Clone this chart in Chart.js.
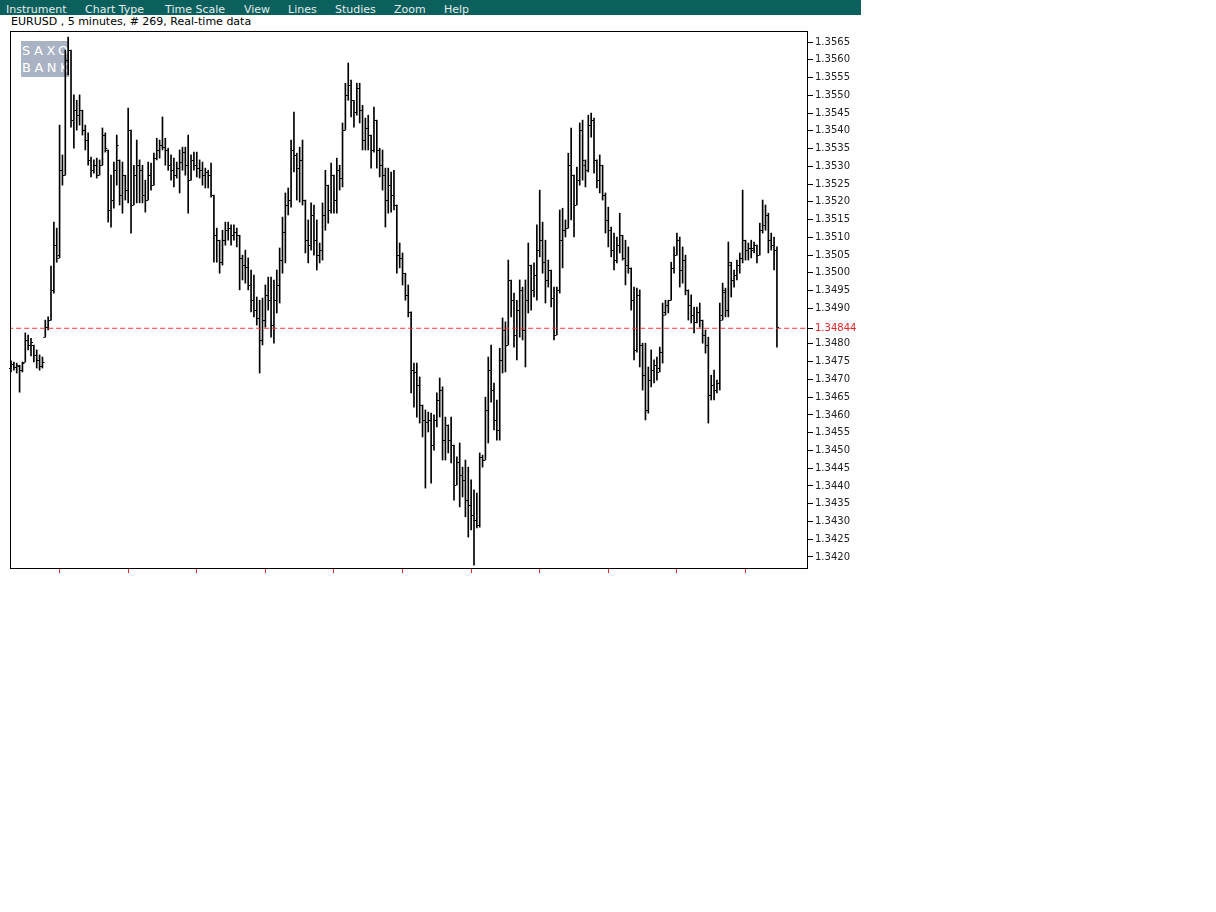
<!DOCTYPE html>
<html lang="en">
<head>
    <meta charset="UTF-8">
    <title>EURUSD 5 minutes</title>
    <script src="https://cdn.jsdelivr.net/npm/chart.js"></script>
    <style>
        body {
            margin: 0;
            background: #fff;
            font-family: "DejaVu Sans", sans-serif;
        }
        .menu {
            position: absolute;
            left: 0;
            top: 0;
            width: 861px;
            height: 15px;
            overflow: hidden;
            background: #0b605e;
        }
        .menu span {
            position: absolute;
            top: 3px;
            font-size: 11px;
            color: #e4ecec;
        }
        .title {
            position: absolute;
            left: 11px;
            top: 15px;
            font-size: 11px;
            color: #000;
        }
        .logo {
            position: absolute;
            left: 21px;
            top: 41px;
            width: 48px;
            height: 36px;
            background: #a9b3c3;
            color: #fff;
            font-size: 13px;
            letter-spacing: 3.5px;
            line-height: 17px;
            padding: 1px 0 0 1px;
            box-sizing: border-box;
            overflow: hidden;
            white-space: nowrap;
        }
        .chart-box {
            position: absolute;
            left: 0;
            top: 0;
            width: 870px;
            height: 580px;
        }
    </style>
</head>
<body>
    <div class="menu">
        <span style="left:6px">Instrument</span>
        <span style="left:85px">Chart Type</span>
        <span style="left:165px">Time Scale</span>
        <span style="left:244px">View</span>
        <span style="left:288px">Lines</span>
        <span style="left:335px">Studies</span>
        <span style="left:394px">Zoom</span>
        <span style="left:444px">Help</span>
    </div>
    <div class="title">EURUSD , 5 minutes, # 269, Real-time data</div>
    <div class="logo">SAXO<br>BANK</div>
    <div class="chart-box">
        <canvas id="ohlcChart" width="870" height="580"></canvas>
    </div>

    <script>
        // 269 bars de 5 minutes
        const opens = [
            1.34732, 1.34743, 1.34735, 1.34738, 1.34726, 1.34749, 1.34811, 1.34797, 1.34797, 1.34769,
            1.34755, 1.34738, 1.34819, 1.34847, 1.34867, 1.34952, 1.35078, 1.35050, 1.35289, 1.35275,
            1.35599, 1.35627, 1.35430, 1.35458, 1.35444, 1.35458, 1.35402, 1.35374, 1.35318, 1.35289,
            1.35303, 1.35275, 1.35303, 1.35388, 1.35346, 1.35177, 1.35205, 1.35289, 1.35318, 1.35219,
            1.35275, 1.35233, 1.35402, 1.35191, 1.35275, 1.35303, 1.35289, 1.35219, 1.35205, 1.35275,
            1.35247, 1.35323, 1.35346, 1.35360, 1.35354, 1.35346, 1.35303, 1.35289, 1.35275, 1.35295,
            1.35312, 1.35340, 1.35303, 1.35261, 1.35318, 1.35303, 1.35295, 1.35289, 1.35275, 1.35284,
            1.35275, 1.35219, 1.35106, 1.35092, 1.35030, 1.35092, 1.35120, 1.35126, 1.35106, 1.35115,
            1.35106, 1.35042, 1.35022, 1.35016, 1.34966, 1.34923, 1.34895, 1.34873, 1.34811, 1.34867,
            1.34938, 1.34923, 1.34853, 1.34923, 1.34966, 1.35036, 1.35115, 1.35191, 1.35205, 1.35346,
            1.35332, 1.35295, 1.35318, 1.35205, 1.35092, 1.35078, 1.35163, 1.35092, 1.35050, 1.35064,
            1.35163, 1.35247, 1.35177, 1.35275, 1.35205, 1.35289, 1.35267, 1.35402, 1.35501, 1.35529,
            1.35486, 1.35453, 1.35520, 1.35458, 1.35374, 1.35408, 1.35388, 1.35346, 1.35430, 1.35346,
            1.35303, 1.35275, 1.35205, 1.35247, 1.35219, 1.35191, 1.35050, 1.35042, 1.34999, 1.34938,
            1.34890, 1.34726, 1.34721, 1.34684, 1.34628, 1.34586, 1.34580, 1.34586, 1.34515, 1.34586,
            1.34642, 1.34670, 1.34529, 1.34572, 1.34529, 1.34515, 1.34403, 1.34467, 1.34431, 1.34417,
            1.34360, 1.34346, 1.34318, 1.34304, 1.34290, 1.34482, 1.34473, 1.34614, 1.34726, 1.34670,
            1.34586, 1.34558, 1.34755, 1.34839, 1.34797, 1.34980, 1.34923, 1.34825, 1.34895, 1.34952,
            1.34839, 1.34923, 1.35022, 1.34952, 1.34994, 1.35064, 1.35092, 1.35030, 1.34980, 1.35008,
            1.34929, 1.34825, 1.34952, 1.35092, 1.35120, 1.35126, 1.35303, 1.35275, 1.35191, 1.35261,
            1.35402, 1.35303, 1.35289, 1.35416, 1.35430, 1.35318, 1.35261, 1.35303, 1.35219, 1.35149,
            1.35120, 1.35064, 1.35036, 1.35078, 1.35106, 1.35042, 1.35022, 1.35014, 1.34923, 1.34783,
            1.34938, 1.34797, 1.34712, 1.34614, 1.34698, 1.34726, 1.34740, 1.34732, 1.34777, 1.34890,
            1.34909, 1.34923, 1.35014, 1.35050, 1.35092, 1.35008, 1.35036, 1.34952, 1.34909, 1.34881,
            1.34862, 1.34890, 1.34867, 1.34825, 1.34797, 1.34656, 1.34684, 1.34670, 1.34690, 1.34881,
            1.34946, 1.34895, 1.35022, 1.34980, 1.34994, 1.35022, 1.35042, 1.35092, 1.35064, 1.35070,
            1.35070, 1.35078, 1.35050, 1.35120, 1.35135, 1.35163, 1.35092, 1.35078, 1.35064
        ];
        const highs = [
            1.34752, 1.34749, 1.34746, 1.34740, 1.34749, 1.34831, 1.34825, 1.34816, 1.34797, 1.34783,
            1.34769, 1.34763, 1.34867, 1.34876, 1.35019, 1.35143, 1.35126, 1.35416, 1.35332, 1.35627,
            1.35664, 1.35627, 1.35501, 1.35486, 1.35501, 1.35458, 1.35416, 1.35394, 1.35326, 1.35318,
            1.35323, 1.35318, 1.35408, 1.35394, 1.35346, 1.35275, 1.35312, 1.35388, 1.35318, 1.35312,
            1.35275, 1.35464, 1.35402, 1.35303, 1.35374, 1.35318, 1.35303, 1.35261, 1.35312, 1.35309,
            1.35337, 1.35379, 1.35374, 1.35439, 1.35379, 1.35351, 1.35332, 1.35323, 1.35312, 1.35346,
            1.35354, 1.35354, 1.35388, 1.35332, 1.35340, 1.35340, 1.35318, 1.35312, 1.35295, 1.35289,
            1.35309, 1.35219, 1.35126, 1.35092, 1.35120, 1.35143, 1.35143, 1.35135, 1.35135, 1.35126,
            1.35106, 1.35050, 1.35064, 1.35042, 1.35008, 1.34994, 1.34932, 1.34923, 1.34929, 1.34966,
            1.34988, 1.34988, 1.34980, 1.35008, 1.35070, 1.35157, 1.35225, 1.35239, 1.35374, 1.35453,
            1.35337, 1.35354, 1.35374, 1.35205, 1.35149, 1.35197, 1.35191, 1.35149, 1.35084, 1.35197,
            1.35289, 1.35247, 1.35309, 1.35275, 1.35323, 1.35303, 1.35422, 1.35534, 1.35591, 1.35543,
            1.35486, 1.35534, 1.35534, 1.35472, 1.35436, 1.35444, 1.35388, 1.35467, 1.35430, 1.35351,
            1.35346, 1.35295, 1.35295, 1.35284, 1.35289, 1.35191, 1.35084, 1.35056, 1.34999, 1.34966,
            1.34890, 1.34746, 1.34746, 1.34707, 1.34628, 1.34614, 1.34608, 1.34605, 1.34600, 1.34662,
            1.34704, 1.34679, 1.34594, 1.34572, 1.34594, 1.34515, 1.34482, 1.34521, 1.34453, 1.34473,
            1.34453, 1.34417, 1.34389, 1.34380, 1.34493, 1.34487, 1.34650, 1.34763, 1.34797, 1.34690,
            1.34642, 1.34788, 1.34873, 1.34862, 1.35036, 1.34980, 1.34943, 1.34923, 1.34980, 1.34960,
            1.34980, 1.35084, 1.35022, 1.35028, 1.35135, 1.35233, 1.35143, 1.35092, 1.35036, 1.35008,
            1.34960, 1.34960, 1.35177, 1.35182, 1.35149, 1.35337, 1.35408, 1.35275, 1.35298, 1.35422,
            1.35430, 1.35318, 1.35444, 1.35450, 1.35436, 1.35318, 1.35332, 1.35303, 1.35225, 1.35185,
            1.35129, 1.35112, 1.35101, 1.35168, 1.35106, 1.35092, 1.35073, 1.35014, 1.34960, 1.34957,
            1.34952, 1.34802, 1.34802, 1.34735, 1.34783, 1.34755, 1.34763, 1.34791, 1.34915, 1.34923,
            1.34923, 1.35030, 1.35073, 1.35112, 1.35101, 1.35073, 1.35050, 1.34952, 1.34938, 1.34904,
            1.34904, 1.34915, 1.34867, 1.34839, 1.34819, 1.34712, 1.34726, 1.34698, 1.34915, 1.34971,
            1.34957, 1.35087, 1.35030, 1.35008, 1.35036, 1.35056, 1.35233, 1.35092, 1.35084, 1.35092,
            1.35087, 1.35078, 1.35140, 1.35205, 1.35191, 1.35168, 1.35112, 1.35101, 1.35073
        ];
        const lows = [
            1.34721, 1.34726, 1.34718, 1.34664, 1.34721, 1.34749, 1.34783, 1.34766, 1.34749, 1.34732,
            1.34726, 1.34732, 1.34819, 1.34839, 1.34867, 1.34943, 1.35030, 1.35042, 1.35247, 1.35275,
            1.35557, 1.35410, 1.35351, 1.35402, 1.35416, 1.35388, 1.35346, 1.35303, 1.35270, 1.35281,
            1.35267, 1.35275, 1.35303, 1.35340, 1.35143, 1.35129, 1.35182, 1.35247, 1.35191, 1.35168,
            1.35205, 1.35197, 1.35112, 1.35191, 1.35197, 1.35197, 1.35197, 1.35171, 1.35205, 1.35233,
            1.35247, 1.35318, 1.35323, 1.35346, 1.35303, 1.35289, 1.35261, 1.35242, 1.35267, 1.35225,
            1.35289, 1.35275, 1.35168, 1.35261, 1.35289, 1.35270, 1.35267, 1.35247, 1.35239, 1.35239,
            1.35213, 1.35030, 1.35030, 1.34999, 1.35022, 1.35078, 1.35092, 1.35078, 1.35092, 1.35073,
            1.34952, 1.34980, 1.34971, 1.34952, 1.34890, 1.34876, 1.34853, 1.34718, 1.34797, 1.34847,
            1.34895, 1.34819, 1.34802, 1.34887, 1.34915, 1.34999, 1.35028, 1.35163, 1.35185, 1.35284,
            1.35205, 1.35199, 1.35191, 1.35056, 1.35028, 1.35064, 1.35050, 1.35008, 1.35028, 1.35036,
            1.35120, 1.35140, 1.35168, 1.35168, 1.35168, 1.35233, 1.35242, 1.35402, 1.35486, 1.35439,
            1.35410, 1.35444, 1.35422, 1.35346, 1.35346, 1.35346, 1.35295, 1.35340, 1.35295, 1.35270,
            1.35233, 1.35129, 1.35168, 1.35171, 1.35177, 1.34999, 1.35014, 1.34966, 1.34923, 1.34876,
            1.34662, 1.34622, 1.34594, 1.34577, 1.34538, 1.34394, 1.34552, 1.34408, 1.34501, 1.34566,
            1.34594, 1.34473, 1.34473, 1.34493, 1.34465, 1.34360, 1.34403, 1.34341, 1.34369, 1.34313,
            1.34256, 1.34276, 1.34177, 1.34282, 1.34284, 1.34453, 1.34473, 1.34521, 1.34636, 1.34558,
            1.34529, 1.34529, 1.34718, 1.34721, 1.34797, 1.34876, 1.34791, 1.34755, 1.34819, 1.34811,
            1.34735, 1.34887, 1.34895, 1.34932, 1.34923, 1.35045, 1.34999, 1.34915, 1.34960, 1.34904,
            1.34811, 1.34825, 1.34943, 1.35014, 1.35101, 1.35126, 1.35149, 1.35101, 1.35191, 1.35247,
            1.35261, 1.35242, 1.35284, 1.35382, 1.35281, 1.35239, 1.35225, 1.35205, 1.35112, 1.35073,
            1.35045, 1.35008, 1.35028, 1.35056, 1.35036, 1.34966, 1.34999, 1.34895, 1.34755, 1.34777,
            1.34735, 1.34670, 1.34586, 1.34605, 1.34679, 1.34690, 1.34698, 1.34721, 1.34746, 1.34881,
            1.34887, 1.34923, 1.34999, 1.35050, 1.34960, 1.34971, 1.34938, 1.34867, 1.34859, 1.34831,
            1.34859, 1.34847, 1.34802, 1.34774, 1.34577, 1.34642, 1.34642, 1.34662, 1.34670, 1.34867,
            1.34876, 1.34876, 1.34932, 1.34960, 1.34980, 1.34999, 1.35028, 1.35036, 1.35036, 1.35042,
            1.35056, 1.35028, 1.35050, 1.35112, 1.35120, 1.35056, 1.35064, 1.35008, 1.34791
        ];
        const closes = [
            1.34743, 1.34735, 1.34740, 1.34726, 1.34746, 1.34811, 1.34797, 1.34805, 1.34769, 1.34755,
            1.34738, 1.34749, 1.34847, 1.34867, 1.34952, 1.35078, 1.35042, 1.35289, 1.35275, 1.35599,
            1.35627, 1.35430, 1.35458, 1.35444, 1.35458, 1.35402, 1.35374, 1.35318, 1.35289, 1.35303,
            1.35275, 1.35303, 1.35388, 1.35351, 1.35177, 1.35205, 1.35289, 1.35360, 1.35219, 1.35275,
            1.35233, 1.35402, 1.35191, 1.35275, 1.35303, 1.35289, 1.35219, 1.35205, 1.35275, 1.35247,
            1.35323, 1.35346, 1.35360, 1.35354, 1.35346, 1.35303, 1.35289, 1.35275, 1.35295, 1.35312,
            1.35340, 1.35303, 1.35261, 1.35318, 1.35303, 1.35295, 1.35289, 1.35275, 1.35284, 1.35275,
            1.35219, 1.35106, 1.35092, 1.35030, 1.35092, 1.35120, 1.35126, 1.35106, 1.35115, 1.35106,
            1.35042, 1.35022, 1.35016, 1.34966, 1.34923, 1.34895, 1.34873, 1.34811, 1.34867, 1.34938,
            1.34923, 1.34853, 1.34923, 1.34966, 1.35036, 1.35115, 1.35191, 1.35205, 1.35346, 1.35332,
            1.35295, 1.35318, 1.35205, 1.35092, 1.35078, 1.35163, 1.35092, 1.35050, 1.35064, 1.35163,
            1.35247, 1.35177, 1.35275, 1.35205, 1.35289, 1.35267, 1.35402, 1.35501, 1.35529, 1.35486,
            1.35453, 1.35520, 1.35458, 1.35374, 1.35408, 1.35388, 1.35346, 1.35430, 1.35346, 1.35303,
            1.35275, 1.35205, 1.35247, 1.35219, 1.35191, 1.35050, 1.35042, 1.34999, 1.34938, 1.34890,
            1.34726, 1.34721, 1.34684, 1.34628, 1.34586, 1.34580, 1.34586, 1.34515, 1.34586, 1.34642,
            1.34670, 1.34529, 1.34572, 1.34529, 1.34515, 1.34403, 1.34467, 1.34431, 1.34417, 1.34360,
            1.34346, 1.34318, 1.34304, 1.34290, 1.34482, 1.34473, 1.34614, 1.34726, 1.34670, 1.34586,
            1.34558, 1.34755, 1.34839, 1.34797, 1.34980, 1.34923, 1.34825, 1.34895, 1.34952, 1.34839,
            1.34923, 1.35022, 1.34952, 1.34994, 1.35064, 1.35092, 1.35030, 1.34980, 1.35008, 1.34929,
            1.34825, 1.34952, 1.35092, 1.35120, 1.35126, 1.35303, 1.35275, 1.35191, 1.35261, 1.35402,
            1.35318, 1.35289, 1.35416, 1.35430, 1.35318, 1.35261, 1.35303, 1.35219, 1.35149, 1.35120,
            1.35064, 1.35036, 1.35078, 1.35106, 1.35042, 1.35022, 1.35014, 1.34923, 1.34783, 1.34938,
            1.34797, 1.34712, 1.34614, 1.34698, 1.34726, 1.34740, 1.34721, 1.34777, 1.34881, 1.34909,
            1.34923, 1.35014, 1.35050, 1.35092, 1.35008, 1.35036, 1.34952, 1.34909, 1.34881, 1.34862,
            1.34890, 1.34867, 1.34825, 1.34797, 1.34656, 1.34684, 1.34670, 1.34690, 1.34867, 1.34952,
            1.34895, 1.35030, 1.34980, 1.34994, 1.35022, 1.35042, 1.35092, 1.35064, 1.35070, 1.35064,
            1.35078, 1.35050, 1.35120, 1.35135, 1.35163, 1.35092, 1.35078, 1.35064, 1.34847
        ];

        // dernier prix (ligne rouge)
        const lastPrice = 1.34844;

        // graduations de l'axe des prix
        const priceTicks = [
            1.3420, 1.3425, 1.3430, 1.3435, 1.3440, 1.3445, 1.3450, 1.3455, 1.3460, 1.3465,
            1.3470, 1.3475, 1.3480, 1.34844, 1.3490, 1.3495, 1.3500, 1.3505, 1.3510, 1.3515,
            1.3520, 1.3525, 1.3530, 1.3535, 1.3540, 1.3545, 1.3550, 1.3555, 1.3560, 1.3565
        ];
        // repères rouges sous le graphique (toutes les 2 heures = 24 bars)
        const timeTicks = [17, 41, 65, 89, 113, 137, 161, 185, 209, 233, 257];

        const barData = highs.map((h, i) => ({ x: i, y: [lows[i], h] }));

        // petits traits open (gauche) / close (droite)
        const ohlcTicks = {
            id: 'ohlcTicks',
            afterDatasetsDraw(chart) {
                const ctx = chart.ctx;
                const xs = chart.scales.x;
                const ys = chart.scales.y;
                ctx.save();
                ctx.fillStyle = '#000';
                for (let i = 0; i < opens.length; i++) {
                    const x = xs.getPixelForValue(i);
                    const yo = Math.round(ys.getPixelForValue(opens[i]));
                    const yc = Math.round(ys.getPixelForValue(closes[i]));
                    ctx.fillRect(x - 2, yo, 1.5, 1);
                    ctx.fillRect(x + 0.5, yc, 1.5, 1);
                }
                ctx.restore();
            }
        };

        // cadre noir autour de la zone du graphique
        const frame = {
            id: 'frame',
            afterDraw(chart) {
                const a = chart.chartArea;
                const ctx = chart.ctx;
                ctx.save();
                ctx.strokeStyle = '#000';
                ctx.lineWidth = 1;
                ctx.strokeRect(a.left + 0.5, a.top + 0.5, a.right - a.left - 1, a.bottom - a.top);
                ctx.restore();
            }
        };

        const ctx = document.getElementById('ohlcChart');
        new Chart(ctx, {
            type: 'bar',
            data: {
                datasets: [
                    {
                        type: 'line',
                        data: [{ x: -1, y: lastPrice }, { x: 280, y: lastPrice }],
                        borderColor: '#ee3535',
                        borderWidth: 1,
                        borderDash: [5, 3],
                        pointRadius: 0,
                        order: 0
                    },
                    {
                        label: 'EURUSD',
                        data: barData,
                        backgroundColor: '#000',
                        borderWidth: 0,
                        barThickness: 1,
                        grouped: false,
                        order: 1
                    }
                ]
            },
            options: {
                responsive: false,
                animation: false,
                layout: { padding: { left: 10, top: 31, right: 0, bottom: 0 } },
                plugins: {
                    legend: { display: false },
                    tooltip: { enabled: false }
                },
                scales: {
                    x: {
                        type: 'linear',
                        min: -0.35,
                        max: 278.87,
                        offset: false,
                        afterBuildTicks: scale => {
                            scale.ticks = timeTicks.map(v => ({ value: v }));
                        },
                        afterFit: scale => { scale.height = 12; },
                        grid: { offset: false, drawOnChartArea: false, drawTicks: true, tickLength: 5, color: '#e03030' },
                        border: { display: false },
                        ticks: { callback: () => '', padding: 0 }
                    },
                    y: {
                        position: 'right',
                        min: 1.34169,
                        max: 1.35681,
                        afterBuildTicks: scale => {
                            scale.ticks = priceTicks.map(v => ({ value: v }));
                        },
                        afterFit: scale => { scale.width = 62; },
                        grid: { drawOnChartArea: false, drawTicks: true, tickLength: 5, color: '#000' },
                        border: { display: false },
                        ticks: {
                            padding: 2,
                            font: { family: 'DejaVu Sans', size: 10 },
                            color: c => (c.tick && c.tick.value === lastPrice) ? '#e02525' : '#222',
                            callback: v => v === lastPrice ? v.toFixed(5) : v.toFixed(4)
                        }
                    }
                }
            },
            plugins: [ohlcTicks, frame]
        });
    </script>
</body>
</html>
